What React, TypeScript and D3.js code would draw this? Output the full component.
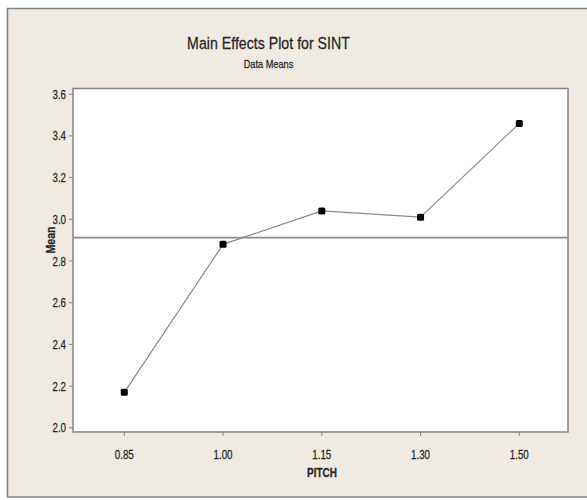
import React from "react";
import * as d3 from "d3";

const categories = ["0.85", "1.00", "1.15", "1.30", "1.50"];
const means = [2.17, 2.88, 3.04, 3.01, 3.46];
const yTicks = [2.0, 2.2, 2.4, 2.6, 2.8, 3.0, 3.2, 3.4, 3.6];
const title = "Main Effects Plot for SINT";
const subtitle = "Data Means";
const xLabel = "PITCH";
const yLabel = "Mean";

const W = 587;
const H = 500;
const plot = { left: 73, right: 568, top: 88.5, bottom: 432 };
const FONT = "'Liberation Sans', Arial, sans-serif";
const TXT = "#262626";

function NarrowText({ x, y, anchor = "middle", size = 11, sx = 0.82, weight = "normal", children, rotate = 0 }: any) {
  return (
    <g transform={`translate(${x},${y}) rotate(${rotate}) scale(${sx},1)`}>
      <text
        x={0}
        y={0}
        textAnchor={anchor}
        fontFamily={FONT}
        fontSize={size}
        fontWeight={weight}
        fill={TXT}
        stroke={TXT}
        strokeWidth={0.25}
      >
        {children}
      </text>
    </g>
  );
}

export default function App() {
  const x = d3.scalePoint<string>().domain(categories).range([124.3, 519.3]);
  const y = d3.scaleLinear().domain([2.0, 3.6]).range([427.8, 94.2]);
  const grand = d3.mean(means) as number;
  const data = categories.map((c, i) => ({ c, v: means[i] }));
  const line = d3
    .line<{ c: string; v: number }>()
    .x((d) => x(d.c) as number)
    .y((d) => y(d.v));

  return (
    <svg
      width={W}
      height={H}
      style={{ position: "absolute", left: 0, top: 0, display: "block" }}
    >
      <rect x={0} y={0} width={W} height={H} fill="#ffffff" />
      <rect x={7.5} y={8.5} width={W + 10} height={488.5} fill="#efebe2" stroke="#808080" strokeWidth={1.5} />

      {/* title */}
      <NarrowText x={268.5} y={49} size={16.5} sx={0.86}>{title}</NarrowText>
      <NarrowText x={268.5} y={68} size={11.5} sx={0.8}>{subtitle}</NarrowText>

      {/* plot area */}
      <rect
        x={plot.left}
        y={plot.top}
        width={plot.right - plot.left}
        height={plot.bottom - plot.top}
        fill="#ffffff"
        stroke="#858585"
        strokeWidth={1.5}
      />

      {/* y ticks */}
      {yTicks.map((t) => (
        <g key={t}>
          <line x1={plot.left - 4} x2={plot.left} y1={y(t)} y2={y(t)} stroke="#858585" strokeWidth={1} />
          <NarrowText x={plot.left - 7} y={y(t) + 4.5} anchor="end" size={12.5} sx={0.78}>
            {t.toFixed(1)}
          </NarrowText>
        </g>
      ))}

      {/* x ticks */}
      {categories.map((c) => (
        <g key={c}>
          <line x1={x(c) as number} x2={x(c) as number} y1={plot.bottom} y2={plot.bottom + 4} stroke="#858585" strokeWidth={1} />
          <NarrowText x={x(c) as number} y={458.5} size={12.5} sx={0.78}>
            {c}
          </NarrowText>
        </g>
      ))}

      {/* axis labels */}
      <NarrowText x={322} y={476.5} size={12.5} sx={0.8} weight="bold">{xLabel}</NarrowText>
      <NarrowText x={55} y={240} size={12.5} sx={0.85} weight="bold" rotate={-90}>{yLabel}</NarrowText>

      {/* grand mean reference */}
      <line x1={plot.left} x2={plot.right} y1={y(grand)} y2={y(grand)} stroke="#8c8c8c" strokeWidth={1.6} />

      {/* means line */}
      <path d={line(data) || ""} fill="none" stroke="#8a8a8a" strokeWidth={1.2} />
      {data.map((d) => (
        <rect
          key={d.c}
          x={(x(d.c) as number) - 3.5}
          y={y(d.v) - 3.5}
          width={7}
          height={7}
          rx={1.5}
          fill="#000000"
        />
      ))}
    </svg>
  );
}
